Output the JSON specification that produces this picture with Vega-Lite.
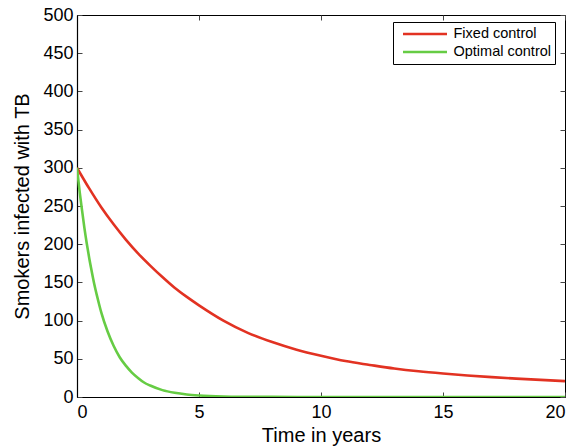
{
  "$schema": "https://vega.github.io/schema/vega-lite/v6.json",
  "width": 488,
  "height": 382,
  "autosize": {"type": "none"},
  "padding": {"left": 77, "top": 15, "right": 14, "bottom": 49},
  "background": "white",
  "config": {
    "font": "Liberation Sans",
    "view": {"stroke": "black", "strokeWidth": 1},
    "axis": {
      "grid": false,
      "domainColor": "black",
      "domainWidth": 1.2,
      "tickColor": "#444",
      "tickSize": -5,
      "labelFontSize": 18,
      "labelColor": "black",
      "titleFontSize": 20,
      "titleFontWeight": "normal",
      "titleColor": "black"
    }
  },
  "data": {
    "values": [
      {"s": "Fixed control", "t": 0, "v": 300},
      {"s": "Fixed control", "t": 0.5, "v": 273},
      {"s": "Fixed control", "t": 1, "v": 248},
      {"s": "Fixed control", "t": 1.5, "v": 226},
      {"s": "Fixed control", "t": 2, "v": 206},
      {"s": "Fixed control", "t": 2.5, "v": 188},
      {"s": "Fixed control", "t": 3, "v": 172},
      {"s": "Fixed control", "t": 3.5, "v": 157},
      {"s": "Fixed control", "t": 4, "v": 143},
      {"s": "Fixed control", "t": 4.5, "v": 131},
      {"s": "Fixed control", "t": 5, "v": 120},
      {"s": "Fixed control", "t": 6, "v": 100},
      {"s": "Fixed control", "t": 7, "v": 84},
      {"s": "Fixed control", "t": 8, "v": 72},
      {"s": "Fixed control", "t": 9, "v": 62},
      {"s": "Fixed control", "t": 10, "v": 54},
      {"s": "Fixed control", "t": 11, "v": 47},
      {"s": "Fixed control", "t": 12, "v": 42},
      {"s": "Fixed control", "t": 13, "v": 37.3},
      {"s": "Fixed control", "t": 14, "v": 33.6},
      {"s": "Fixed control", "t": 15, "v": 30.7},
      {"s": "Fixed control", "t": 16, "v": 28.2},
      {"s": "Fixed control", "t": 17, "v": 26},
      {"s": "Fixed control", "t": 18, "v": 24.1},
      {"s": "Fixed control", "t": 19, "v": 22.4},
      {"s": "Fixed control", "t": 20, "v": 20.8},
      {"s": "Optimal control", "t": 0, "v": 300},
      {"s": "Optimal control", "t": 0.1, "v": 271},
      {"s": "Optimal control", "t": 0.2, "v": 246},
      {"s": "Optimal control", "t": 0.3, "v": 222},
      {"s": "Optimal control", "t": 0.4, "v": 201},
      {"s": "Optimal control", "t": 0.5, "v": 182},
      {"s": "Optimal control", "t": 0.6, "v": 165},
      {"s": "Optimal control", "t": 0.7, "v": 149},
      {"s": "Optimal control", "t": 0.8, "v": 135},
      {"s": "Optimal control", "t": 0.9, "v": 122},
      {"s": "Optimal control", "t": 1, "v": 110},
      {"s": "Optimal control", "t": 1.25, "v": 86},
      {"s": "Optimal control", "t": 1.5, "v": 67},
      {"s": "Optimal control", "t": 1.75, "v": 52},
      {"s": "Optimal control", "t": 2, "v": 41},
      {"s": "Optimal control", "t": 2.25, "v": 32},
      {"s": "Optimal control", "t": 2.5, "v": 25},
      {"s": "Optimal control", "t": 2.75, "v": 19},
      {"s": "Optimal control", "t": 3, "v": 15},
      {"s": "Optimal control", "t": 3.5, "v": 9},
      {"s": "Optimal control", "t": 4, "v": 5.5},
      {"s": "Optimal control", "t": 4.5, "v": 3.3},
      {"s": "Optimal control", "t": 5, "v": 2},
      {"s": "Optimal control", "t": 6, "v": 0.7},
      {"s": "Optimal control", "t": 7, "v": 0.3},
      {"s": "Optimal control", "t": 8, "v": 0.1},
      {"s": "Optimal control", "t": 10, "v": 0},
      {"s": "Optimal control", "t": 15, "v": 0},
      {"s": "Optimal control", "t": 20, "v": 0}
    ]
  },
  "layer": [
    {
      "mark": {"type": "line", "strokeWidth": 2.6, "clip": true, "interpolate": "monotone"},
      "encoding": {
        "x": {
          "field": "t", "type": "quantitative",
          "scale": {"domain": [0, 20], "nice": false},
          "axis": {"title": "Time in years", "values": [0, 5, 10, 15, 20], "labelPadding": 11, "titlePadding": 4}
        },
        "y": {
          "field": "v", "type": "quantitative",
          "scale": {"domain": [0, 500], "nice": false},
          "axis": {"title": "Smokers infected with TB", "values": [0, 50, 100, 150, 200, 250, 300, 350, 400, 450, 500], "labelPadding": 9, "titlePadding": 10}
        },
        "color": {
          "field": "s", "type": "nominal",
          "scale": {"domain": ["Fixed control", "Optimal control"], "range": ["#e23222", "#66cc44"]},
          "legend": {
            "title": null,
            "orient": "none",
            "legendX": 316,
            "legendY": 7,
            "symbolType": "stroke",
            "symbolSize": 1936,
            "symbolStrokeWidth": 2.6,
            "symbolOffset": 5,
            "clipHeight": 17,
            "labelFontSize": 14.5,
            "labelColor": "black",
            "strokeColor": "black",
            "fillColor": "white",
            "padding": 3.5,
            "rowPadding": 1,
            "labelOffset": 5
          }
        }
      }
    },
    {
      "mark": {"type": "point", "opacity": 0},
      "encoding": {
        "x": {
          "field": "t", "type": "quantitative",
          "scale": {"domain": [0, 20], "nice": false},
          "axis": {"orient": "top", "title": null, "labels": false, "values": [0, 5, 10, 15, 20], "domain": false}
        },
        "y": {
          "field": "v", "type": "quantitative",
          "scale": {"domain": [0, 500], "nice": false},
          "axis": {"orient": "right", "title": null, "labels": false, "values": [0, 50, 100, 150, 200, 250, 300, 350, 400, 450, 500], "domain": false}
        }
      }
    }
  ],
  "resolve": {"axis": {"x": "independent", "y": "independent"}}
}
